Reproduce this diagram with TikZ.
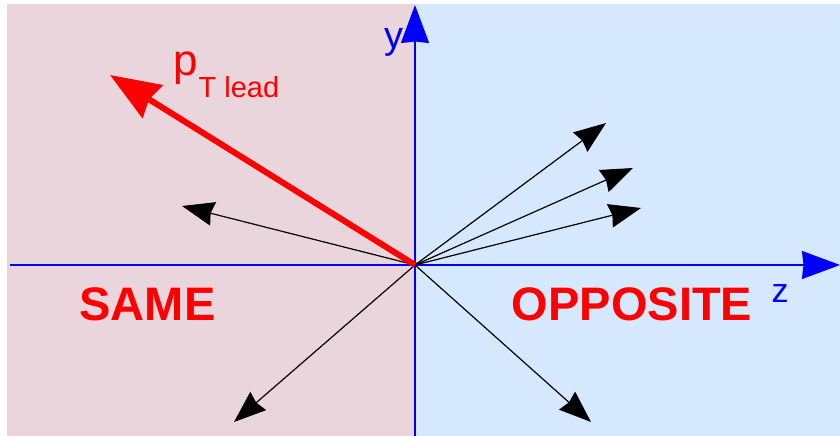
\documentclass[tikz,border=0pt]{standalone}
\usepackage{fontspec}
\setmainfont{Liberation Sans}
\usetikzlibrary{arrows.meta}
\definecolor{samec}{HTML}{EBD5DD}
\definecolor{oppc}{HTML}{D5E8FE}
\definecolor{axisc}{HTML}{0000FF}
\definecolor{leadc}{HTML}{FF0000}
\tikzset{
  axisarrow/.style={draw=axisc,line width=1.6pt,-{Stealth[length=38pt,width=28pt,inset=1.5pt]}},
  trk/.style      ={draw=black,line width=1.2pt,-{Stealth[length=32pt,width=24pt,inset=2.5pt]}},
  leadtrk/.style  ={draw=leadc,line width=6pt,-{Stealth[length=50pt,width=38pt,inset=4pt]}},
  hemi/.style     ={font=\fontsize{47}{47}\selectfont\bfseries,text=leadc,inner sep=0pt},
  axlab/.style    ={text=axisc,inner sep=0pt},
}

\begin{document}
\begin{tikzpicture}[x=1pt,y=1pt]
        \fill[white] (0,0) rectangle (840,436);
        \useasboundingbox (0,0) rectangle (840,436);
        \fill[samec] (7,0) rectangle (415,432);
        \fill[oppc] (415,0) rectangle (840,432);
        \coordinate (O) at (415,171);
        \coordinate (zstart) at (10,171);
        \coordinate (zend) at (840,171);
        \coordinate (ystart) at (415,0);
        \coordinate (yend) at (415,431);
        \coordinate (t1) at (182,230);
        \coordinate (t2) at (606,313);
        \coordinate (t3) at (633,268);
        \coordinate (t4) at (641,228);
        \coordinate (t5) at (234,14);
        \coordinate (t6) at (591,14);
        \coordinate (lead) at (110,361);
        \draw[axisarrow] (zstart) -- (zend);
        \draw[axisarrow] (ystart) -- (yend);
        \foreach \t in {t1,t2,t3,t4,t5,t6}
          \draw[trk] (O) -- (\t);
        \draw[leadtrk] (O) -- (lead);
        \node[hemi] (same) at (147.5,131.5) {SAME};
        \node[hemi] (opp) at (632,131.5) {OPPOSITE};
        \node[axlab,font=\fontsize{38}{38}\selectfont] (ylab) at (393.5,394) {y};
        \node[axlab,font=\fontsize{34}{34}\selectfont] (zlab) at (780,142.5) {z};
        \node[text=leadc,inner sep=0pt,anchor=base west] (ptlab) at (173,360)
              {\fontsize{44}{44}\selectfont p\hspace{1pt}\raisebox{-22pt}{\fontsize{29}{29}\selectfont T lead}};
      \end{tikzpicture}
\end{document}
